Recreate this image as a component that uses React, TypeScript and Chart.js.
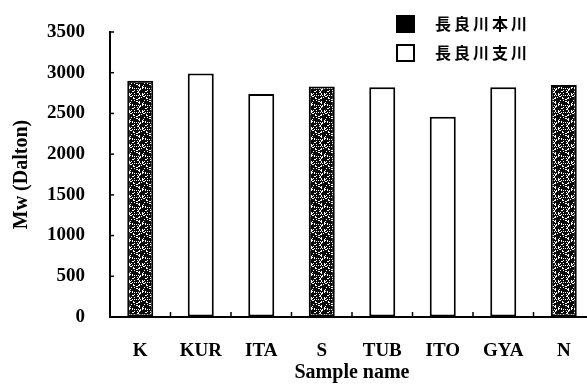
import React, { useEffect, useRef } from "react";
import { Chart, registerables } from "chart.js";

Chart.register(...registerables);

const categories = ["K", "KUR", "ITA", "S", "TUB", "ITO", "GYA", "N"];
const mainLabel = "長良川本川";
const tribLabel = "長良川支川";
const mainValues: (number | null)[] = [2900, null, null, 2830, null, null, null, 2850];
const tribValues: (number | null)[] = [null, 2990, 2740, null, 2820, 2460, 2820, null];
const yMin = 0;
const yMax = 3500;
const yStep = 500;
const xTitle = "Sample name";
const yTitle = "Mw (Dalton)";

function makeSpeckle(): CanvasPattern | string {
  const c = document.createElement("canvas");
  c.width = 13;
  c.height = 17;
  const g = c.getContext("2d");
  if (!g) return "#111";
  g.fillStyle = "#0a0a0a";
  g.fillRect(0, 0, c.width, c.height);
  g.fillStyle = "#fff";
  for (let y = 0; y < c.height; y++) {
    for (let x = 0; x < c.width; x++) {
      const v = (x * 5 + y * 11 + ((x * y) % 7)) % 9;
      if (v === 0 || v === 4) g.fillRect(x, y, 1, 1);
    }
  }
  return g.createPattern(c, "repeat") || "#111";
}

const innerTicks = {
  id: "innerTicks",
  afterDraw(chart: any) {
    const { ctx, chartArea, scales } = chart;
    const xs = scales.x;
    const ys = scales.y;
    ctx.save();
    ctx.strokeStyle = "#000";
    ctx.lineWidth = 1.5;
    ys.ticks.forEach((t: any) => {
      const y = ys.getPixelForValue(t.value);
      ctx.beginPath();
      ctx.moveTo(chartArea.left, y);
      ctx.lineTo(chartArea.left + 4, y);
      ctx.stroke();
    });
    for (let i = 1; i < categories.length; i++) {
      const x = (xs.getPixelForValue(i - 1) + xs.getPixelForValue(i)) / 2;
      ctx.beginPath();
      ctx.moveTo(x, chartArea.bottom);
      ctx.lineTo(x, chartArea.bottom - 5);
      ctx.stroke();
    }
    ctx.restore();
  },
};

const customLegend = {
  id: "customLegend",
  afterDraw(chart: any) {
    const { ctx } = chart;
    ctx.save();
    const rows = [
      { y: 16, fill: "#000" },
      { y: 45, fill: "#fff" },
    ];
    chart.data.datasets.forEach((ds: any, i: number) => {
      const r = rows[i];
      ctx.fillStyle = r.fill;
      ctx.fillRect(397, r.y, 17, 16);
      ctx.strokeStyle = "#000";
      ctx.lineWidth = 2;
      ctx.strokeRect(397, r.y, 17, 16);
      ctx.fillStyle = "#000";
      ctx.font = 'bold 16px "Noto Sans CJK JP"';
      ctx.textBaseline = "middle";
      ctx.textAlign = "left";
      try {
        (ctx as any).letterSpacing = "3px";
      } catch (e) {}
      ctx.fillText(ds.label, 435, r.y + 8);
    });
    ctx.restore();
  },
};

export default function App() {
  const ref = useRef<HTMLCanvasElement>(null);
  useEffect(() => {
    if (!ref.current) return;
    const speckle = makeSpeckle();
    const tickFont = { family: '"Liberation Serif", serif', size: 19, weight: "bold" as const };
    const titleFont = { family: '"Liberation Serif", serif', size: 20, weight: "bold" as const };
    const chart = new Chart(ref.current, {
      type: "bar",
      data: {
        labels: categories,
        datasets: [
          {
            label: mainLabel,
            data: mainValues,
            backgroundColor: speckle as any,
            borderColor: "#000",
            borderWidth: 2,
            borderSkipped: false,
          },
          {
            label: tribLabel,
            data: tribValues,
            backgroundColor: "#fff",
            borderColor: "#000",
            borderWidth: 2,
            borderSkipped: false,
          },
        ],
      },
      options: {
        animation: false,
        responsive: false,
        layout: { padding: { top: 32, right: 6, left: 0, bottom: 0 } },
        plugins: {
          legend: { display: false },
          tooltip: { enabled: false },
        },
        datasets: {
          bar: { categoryPercentage: 0.86, barPercentage: 0.5, skipNull: true },
        },
        scales: {
          x: {
            grid: {
              display: true,
              drawOnChartArea: false,
              drawTicks: true,
              tickLength: 20,
              tickColor: "rgba(0,0,0,0)",
            },
            border: { display: true, color: "#000", width: 2 },
            ticks: { color: "#000", font: tickFont, padding: 3, maxRotation: 0 },
            title: {
              display: true,
              text: xTitle,
              color: "#000",
              font: titleFont,
              padding: { top: 0, bottom: 0 },
            },
            afterFit: (s: any) => {
              s.height = 68;
            },
          },
          y: {
            min: yMin,
            max: yMax,
            grid: {
              display: true,
              drawOnChartArea: false,
              drawTicks: true,
              tickLength: 22,
              tickColor: "rgba(0,0,0,0)",
            },
            border: { display: true, color: "#000", width: 2 },
            ticks: {
              color: "#000",
              font: tickFont,
              padding: 3,
              stepSize: yStep,
              callback: (v: any) => String(v),
            },
            title: {
              display: true,
              text: yTitle,
              color: "#000",
              font: titleFont,
              padding: { top: 10, bottom: 0 },
            },
            afterFit: (s: any) => {
              s.width = 110;
            },
          },
        },
      },
      plugins: [innerTicks, customLegend],
    });
    return () => chart.destroy();
  }, []);
  return (
    <div style={{ position: "absolute", left: 0, top: 0, width: 587, height: 385, overflow: "hidden", background: "#fff" }}>
      <canvas ref={ref} width={600} height={385} style={{ width: 600, height: 385, display: "block" }} />
    </div>
  );
}
